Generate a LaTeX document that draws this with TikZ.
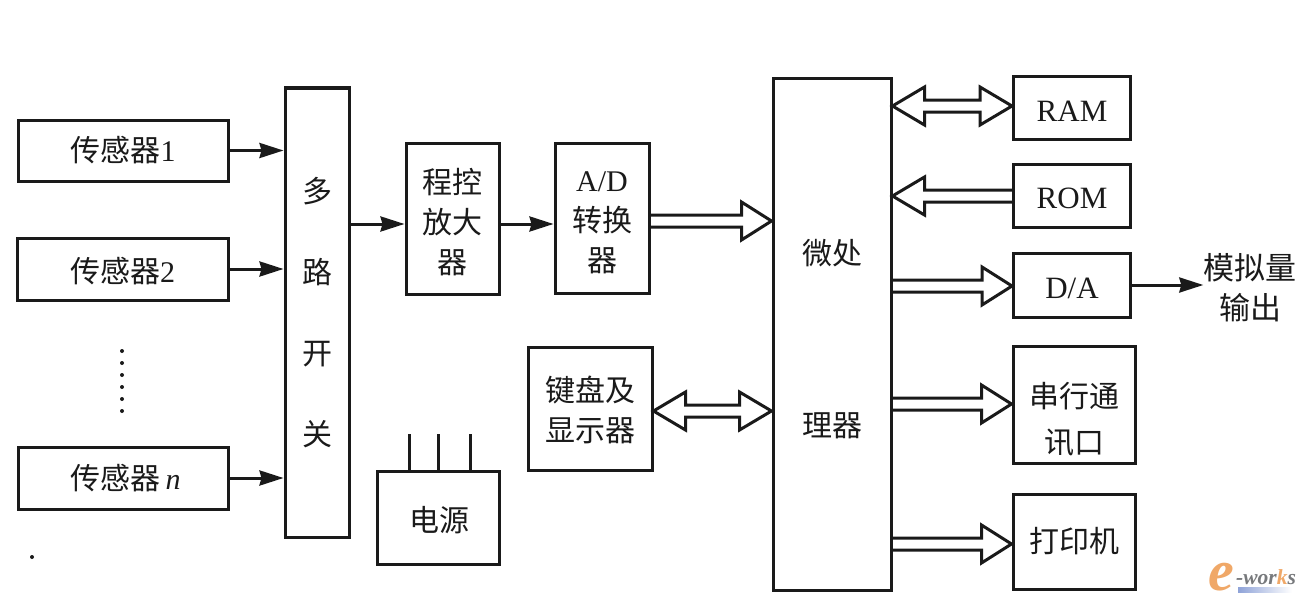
\documentclass[tikz,border=0pt]{standalone}
\usepackage{fontspec}
\setmainfont{Noto Sans CJK SC}
\newfontfamily\latn{Liberation Serif}
\usetikzlibrary{arrows.meta,calc}
\definecolor{ink}{HTML}{1A1A1A}
\definecolor{logoorange}{HTML}{F0A868}
\definecolor{logogray}{HTML}{77797C}
\definecolor{logoblue}{HTML}{8FA3D8}
\tikzset{
  box/.style={draw=ink,line width=3pt,fill=white,inner sep=0pt,align=center,text=ink,
    font=\fontsize{30}{40}\selectfont},
  label/.style={inner sep=0pt,align=center,text=ink,font=\fontsize{31}{40}\selectfont},
  thin arrow/.style={draw=ink,line width=3pt,-{Stealth[length=24pt,width=15pt,inset=2pt]}},
  fat/.style={draw=ink,line width=3pt,line join=miter},
  plain/.style={draw=ink,line width=3pt}
}
\newcommand\low[2]{\raisebox{-#1pt}[\height][\depth]{\begin{tabular}{@{}c@{}}#2\end{tabular}}}
\newcommand\fatright[2]{\draw[fat] let \p1=(#1),\p2=(#2) in
  (\x1,\y1+6pt) -- (\x2-30pt,\y1+6pt) -- (\x2-30pt,\y1+19pt) -- (\x2,\y1) -- (\x2-30pt,\y1-19pt) -- (\x2-30pt,\y1-6pt) -- (\x1,\y1-6pt);}
\newcommand\fatleft[2]{\draw[fat] let \p1=(#1),\p2=(#2) in
  (\x1,\y1+6pt) -- (\x2+32pt,\y1+6pt) -- (\x2+32pt,\y1+19pt) -- (\x2,\y1) -- (\x2+32pt,\y1-19pt) -- (\x2+32pt,\y1-6pt) -- (\x1,\y1-6pt);}
\newcommand\fatboth[2]{\draw[fat] let \p1=(#1),\p2=(#2) in
  (\x1,\y2) -- (\x1+32pt,\y2+19pt) -- (\x1+32pt,\y2+6pt) -- (\x2-32pt,\y2+6pt) -- (\x2-32pt,\y2+19pt) -- (\x2,\y2)
  -- (\x2-32pt,\y2-19pt) -- (\x2-32pt,\y2-6pt) -- (\x1+32pt,\y2-6pt) -- (\x1+32pt,\y2-19pt) -- cycle;}
\begin{document}
\begin{tikzpicture}[x=1pt,y=-1pt]
\useasboundingbox (0,0) rectangle (1304,602);
\fill[white] (0,0) rectangle (1304,602);
% sensors
\node[box,minimum width=210pt,minimum height=61pt] (s1) at (123,150.5) {传感器{\latn 1}};
\node[box,minimum width=211pt,minimum height=62pt] (s2) at (122.5,269) {\low{5}{传感器{\latn 2}}};
\node[box,minimum width=210pt,minimum height=62pt] (sn) at (123,478) {\low{3}{\hspace{5pt}传感器\,{\latn\itshape n}}};
\foreach \yy in {351,363,375,387,399,411} \fill[ink] (122,\yy) circle (2pt);
% switch
\node[box,minimum width=64pt,minimum height=449pt,font=\fontsize{30}{81}\selectfont] (mux) at (317,312.5) {多\\路\\开\\关};
% amp, A/D
\node[box,minimum width=93pt,minimum height=151pt] (amp) at (452.5,218.5) {\low{7}{程控\\放大\\器}};
\node[box,minimum width=94pt,minimum height=150pt] (ad) at (602,218) {\low{5}{{\latn A/D}\\转换\\器}};
% keyboard, power
\node[box,minimum width=124pt,minimum height=123pt] (kbd) at (590,408.5) {\low{5}{键盘及\\显示器}};
\node[box,minimum width=122pt,minimum height=93pt] (pwr) at (438,517.5) {\low{6}{\hspace{3pt}电源}};
\coordinate (p1) at (409,434);
\coordinate (p2) at (438,434);
\coordinate (p3) at (470,434);
\draw[plain] (p1) -- (p1 |- pwr.north);
\draw[plain] (p2) -- (p2 |- pwr.north);
\draw[plain] (p3) -- (p3 |- pwr.north);
% micro
\node[box,minimum width=118pt,minimum height=511pt,font=\fontsize{30}{172}\selectfont] (cpu) at (832,334.5) {\low{-18}{微处\\理器}};
% right column
\node[box,minimum width=117pt,minimum height=62pt,font=\fontsize{31}{40}\selectfont] (ram) at (1072,108) {\low{5}{\latn RAM}};
\node[box,minimum width=117pt,minimum height=63pt,font=\fontsize{31}{40}\selectfont] (rom) at (1072,195.5) {\low{5}{\latn ROM}};
\node[box,minimum width=117pt,minimum height=64pt,font=\fontsize{31}{40}\selectfont] (da) at (1072,285) {\low{5}{\latn D/A}};
\node[box,minimum width=122pt,minimum height=117pt,font=\fontsize{30}{46}\selectfont] (ser) at (1074,404.5) {\low{17}{串行通\\讯口}};
\node[box,minimum width=122pt,minimum height=95pt] (prn) at (1074,541.5) {打印机};
\node[label] (out) at (1250,288) {模拟量\\输出};
% thin arrows
\draw[thin arrow] (s1.east) -- (s1.east -| mux.west);
\draw[thin arrow] (s2.east) -- (s2.east -| mux.west);
\draw[thin arrow] (sn.east) -- (sn.east -| mux.west);
\coordinate (muxout) at (mux.east |- 0,224);
\draw[thin arrow] (muxout) -- (muxout -| amp.west);
\coordinate (ampout) at (amp.east |- 0,224);
\draw[thin arrow] (ampout) -- (ampout -| ad.west);
\draw[thin arrow] (da.east) -- (out.west |- da.east);
% hollow arrows
\coordinate (adout) at (ad.east |- 0,221);
\fatright{adout}{cpu.west}
\coordinate (kbdy) at (kbd.east |- 0,411);
\fatboth{kbd.east}{cpu.west |- kbdy}
\coordinate (ramy) at (ram.west |- 0,106);
\fatboth{cpu.east}{ramy}
\coordinate (romy) at (rom.west |- 0,196);
\fatleft{romy}{cpu.east |- romy}
\coordinate (cda) at (cpu.east |- 0,286);
\fatright{cda}{da.west}
\coordinate (cser) at (cpu.east |- 0,404);
\fatright{cser}{ser.west}
\coordinate (cprn) at (cpu.east |- 0,544);
\fatright{cprn}{prn.west}
% specks and logo
\fill[ink] (32,557) circle (2pt);
\shade[left color=logoblue,right color=white] (1238,587) rectangle (1292,592);
\node[inner sep=0pt,anchor=base west,font=\fontsize{58}{58}\selectfont\latn\bfseries\itshape,text=logoorange] (logoe) at (1208,590) {e};
\node[inner sep=0pt,anchor=base west,font=\fontsize{21.5}{22}\selectfont\latn\bfseries\itshape,text=logogray] (logow) at (1236,584) {-wor{\color{logoorange}k}s};
\end{tikzpicture}
\end{document}
